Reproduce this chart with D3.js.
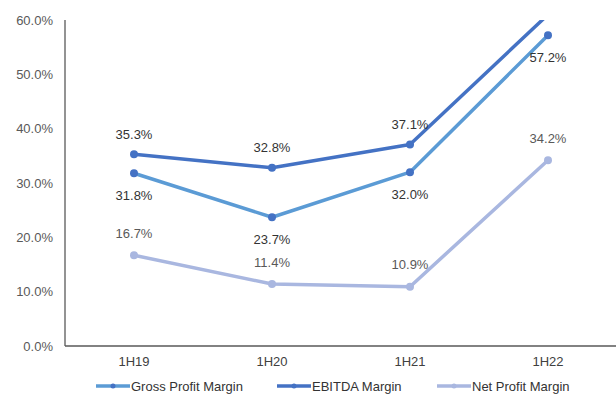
<!DOCTYPE html>
<html>
<head>
<meta charset="utf-8">
<script src="https://cdn.jsdelivr.net/npm/d3@7"></script>
<style>
  body { margin: 0; background: #fff; }
  text { font-family: "Liberation Sans", Arial, sans-serif; }
</style>
</head>
<body>
<div id="chart"></div>
<script>
const periods = ["1H19", "1H20", "1H21", "1H22"];
const grossMargin = [31.8, 23.7, 32.0, 57.2];
const ebitdaMargin = [35.3, 32.8, 37.1, 61.0];
const netMargin = [16.7, 11.4, 10.9, 34.2];
const yTicks = [0, 10, 20, 30, 40, 50, 60];

const series = [
  { name: "Gross Profit Margin", values: grossMargin, line: "#5b9bd5", dot: "#4472c4", label: "#333333", dy: 22 },
  { name: "EBITDA Margin", values: ebitdaMargin, line: "#4472c4", dot: "#4472c4", label: "#333333", dy: -20 },
  { name: "Net Profit Margin", values: netMargin, line: "#a9b7e0", dot: "#a9b7e0", label: "#595959", dy: -22 }
];

const W = 616, H = 401;
const margin = { top: 20, right: 0, bottom: 55, left: 65 },
      width = W - margin.left - margin.right + 1,
      height = H - margin.top - margin.bottom;

const svg = d3.select("#chart").append("svg")
    .attr("width", W)
    .attr("height", H);

const g = svg.append("g")
    .attr("transform", "translate(" + margin.left + "," + margin.top + ")");

const x = d3.scalePoint().domain(periods).range([0, width]).padding(0.5);
const y = d3.scaleLinear().domain([0, 60]).range([height, 0]);

// clip to the plot area, the EBITDA line runs off the top
svg.append("defs").append("clipPath").attr("id", "plot")
  .append("rect").attr("x", 0).attr("y", 0).attr("width", width).attr("height", height);

// y axis labels
g.selectAll(".ytick").data(yTicks).join("text")
    .attr("class", "ytick")
    .attr("x", -12)
    .attr("y", d => y(d))
    .attr("dy", "0.35em")
    .attr("text-anchor", "end")
    .style("font-size", "13px")
    .style("fill", "#595959")
    .text(d => d.toFixed(1) + "%");

// axes lines
g.append("line").attr("x1", 0).attr("x2", 0).attr("y1", 0).attr("y2", height)
    .attr("stroke", "#595959").attr("stroke-width", 1.3);
g.append("line").attr("x1", 0).attr("x2", width).attr("y1", height).attr("y2", height)
    .attr("stroke", "#595959").attr("stroke-width", 1.3);

// category labels
g.selectAll(".xtick").data(periods).join("text")
    .attr("class", "xtick")
    .attr("x", d => x(d))
    .attr("y", height + 15)
    .attr("dy", "0.35em")
    .attr("text-anchor", "middle")
    .style("font-size", "13px")
    .style("fill", "#404040")
    .text(d => d);

const line = d3.line()
    .x((d, i) => x(periods[i]))
    .y(d => y(d));

const plot = g.append("g").attr("clip-path", "url(#plot)");

series.forEach(s => {
  plot.append("path")
    .datum(s.values)
    .attr("fill", "none")
    .attr("stroke", s.line)
    .attr("stroke-width", 3.5)
    .attr("stroke-linejoin", "round")
    .attr("d", line);

  plot.selectAll(null).data(s.values).join("circle")
    .attr("cx", (d, i) => x(periods[i]))
    .attr("cy", d => y(d))
    .attr("r", 4)
    .attr("fill", s.dot);
});

// data labels
series.forEach(s => {
  g.selectAll(null).data(s.values.filter(v => v <= 60).map((v, i) => ({ v, i })))
    .join("text")
    .attr("x", d => x(periods[d.i]))
    .attr("y", d => y(d.v) + s.dy)
    .attr("dy", "0.35em")
    .attr("text-anchor", "middle")
    .style("font-size", "13px")
    .style("fill", s.label)
    .text(d => d.v.toFixed(1) + "%");
});

// legend
const legendX = [96, 277, 437];
const legend = svg.append("g").attr("transform", "translate(0,386)");
series.forEach((s, i) => {
  const lg = legend.append("g").attr("transform", "translate(" + legendX[i] + ",0)");
  lg.append("line").attr("x1", 0).attr("x2", 34).attr("y1", 0).attr("y2", 0)
    .attr("stroke", s.line).attr("stroke-width", 3.5);
  lg.append("circle").attr("cx", 17).attr("cy", 0).attr("r", 2.5).attr("fill", s.dot);
  lg.append("text")
    .attr("x", 35)
    .attr("dy", "0.35em")
    .style("font-size", "13px")
    .style("fill", "#333333")
    .text(s.name);
});
</script>
</body>
</html>
